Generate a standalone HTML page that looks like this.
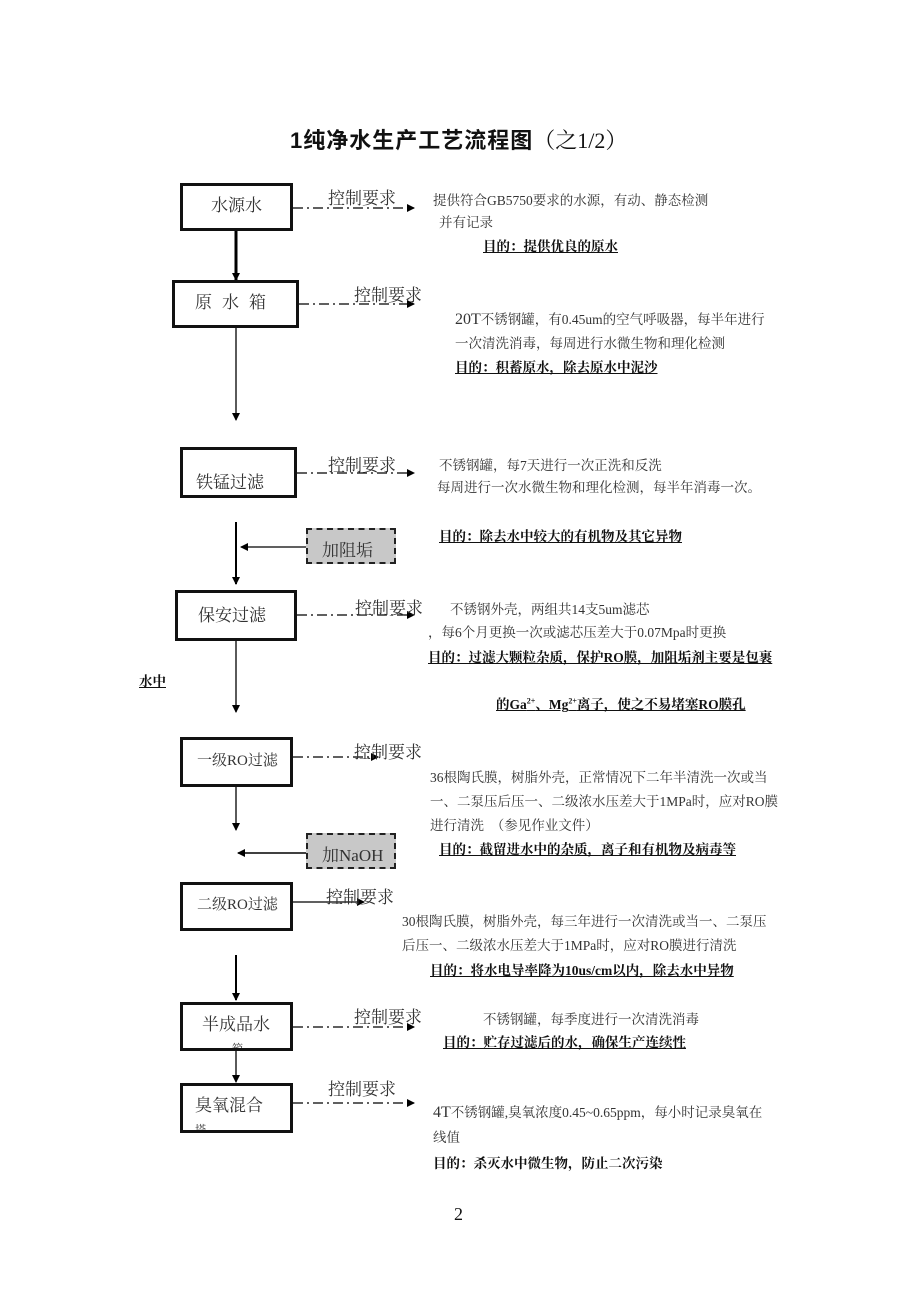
<!DOCTYPE html>
<html><head><meta charset="utf-8"><style>
body{margin:0;background:#fff;}
#p{position:relative;width:920px;height:1302px;overflow:hidden;font-family:"Liberation Serif","Noto Serif CJK SC","Noto Sans CJK SC",serif;color:#111;}
.t{position:absolute;white-space:nowrap;}
.bx{position:absolute;border:3px solid #111;box-sizing:border-box;background:#fff;font-size:17px;color:#333;}
.d{font-size:13.5px;color:#333;}
.g{font-size:13.5px;font-weight:bold;text-decoration:underline;color:#111;}
.k{font-size:17px;color:#333;}
.add{position:absolute;border:2px dashed #222;background:#c8c8c8;box-sizing:border-box;font-size:17px;color:#333;}
</style></head><body><div id="p">
<svg width="920" height="1302" style="position:absolute;left:0;top:0">
<defs><marker id="a" markerWidth="8" markerHeight="8" refX="7" refY="4" orient="auto" markerUnits="userSpaceOnUse"><path d="M0,0L8,4L0,8z" fill="#000"/></marker></defs>
<g stroke="#000" fill="none">
<line x1="236" y1="230" x2="236" y2="280" stroke-width="3" marker-end="url(#a)"/>
<line x1="236" y1="327" x2="236" y2="420" stroke-width="1.3" marker-end="url(#a)"/>
<line x1="236" y1="522" x2="236" y2="584" stroke-width="2" marker-end="url(#a)"/>
<line x1="306" y1="547" x2="241" y2="547" stroke-width="1.3" marker-end="url(#a)"/>
<line x1="236" y1="640" x2="236" y2="712" stroke-width="1.3" marker-end="url(#a)"/>
<line x1="236" y1="786" x2="236" y2="830" stroke-width="1.3" marker-end="url(#a)"/>
<line x1="306" y1="853" x2="238" y2="853" stroke-width="1.5" marker-end="url(#a)"/>
<line x1="236" y1="955" x2="236" y2="1000" stroke-width="2" marker-end="url(#a)"/>
<line x1="236" y1="1050" x2="236" y2="1082" stroke-width="1.3" marker-end="url(#a)"/>
<g stroke-width="1.3" stroke-dasharray="10,4,2,4">
<line x1="293" y1="208" x2="414" y2="208" marker-end="url(#a)"/>
<line x1="299" y1="304" x2="414" y2="304" marker-end="url(#a)"/>
<line x1="297" y1="473" x2="414" y2="473" marker-end="url(#a)"/>
<line x1="297" y1="615" x2="414" y2="615" marker-end="url(#a)"/>
<line x1="293" y1="757" x2="378" y2="757" marker-end="url(#a)"/>
<line x1="293" y1="1027" x2="414" y2="1027" marker-end="url(#a)"/>
<line x1="293" y1="1103" x2="414" y2="1103" marker-end="url(#a)"/>
</g>
<line x1="293" y1="902" x2="364" y2="902" stroke-width="1.3" marker-end="url(#a)"/>
</g></svg>

<div class="t" style="left:290px;top:123px;font-size:22px;font-weight:bold;font-family:'Liberation Sans','Noto Sans CJK SC',sans-serif;letter-spacing:1px;">1纯净水生产工艺流程图<span style="font-weight:normal;letter-spacing:0;font-family:'Liberation Serif','Noto Serif CJK SC',serif;">（之1/2）</span></div>

<div class="bx" style="left:180px;top:183px;width:113px;height:48px;text-align:center;line-height:40px;">水源水</div>
<div class="bx" style="left:172px;top:280px;width:127px;height:48px;text-align:center;line-height:40px;letter-spacing:10px;">原水箱</div>
<div class="bx" style="left:180px;top:447px;width:117px;height:51px;padding:18px 0 0 13px;">铁锰过滤</div>
<div class="bx" style="left:175px;top:590px;width:122px;height:51px;padding:8px 0 0 20px;">保安过滤</div>
<div class="bx" style="left:180px;top:737px;width:113px;height:50px;padding:9px 0 0 14px;font-size:15px;">一级RO过滤</div>
<div class="bx" style="left:180px;top:882px;width:113px;height:49px;padding:8px 0 0 14px;font-size:15px;">二级RO过滤</div>
<div class="bx" style="left:180px;top:1002px;width:113px;height:49px;overflow:hidden;padding:9px 0 0 19px;line-height:22px;">半成品水<br><span style="font-size:11px;padding-left:30px">箱</span></div>
<div class="bx" style="left:180px;top:1083px;width:113px;height:50px;overflow:hidden;padding:9px 0 0 12px;line-height:22px;">臭氧混合<br><span style="font-size:11px;">塔</span></div>

<div class="add" style="left:306px;top:528px;width:90px;height:36px;padding:6px 0 0 14px;">加阻垢</div>
<div class="add" style="left:306px;top:833px;width:90px;height:36px;padding:6px 0 0 14px;">加NaOH</div>

<div class="t k" style="left:328px;top:184px;">控制要求</div>
<div class="t k" style="left:354px;top:281px;">控制要求</div>
<div class="t k" style="left:328px;top:451px;">控制要求</div>
<div class="t k" style="left:355px;top:594px;">控制要求</div>
<div class="t k" style="left:354px;top:738px;">控制要求</div>
<div class="t k" style="left:326px;top:883px;">控制要求</div>
<div class="t k" style="left:354px;top:1003px;">控制要求</div>
<div class="t k" style="left:328px;top:1075px;">控制要求</div>

<div class="t d" style="left:433px;top:189px;">提供符合GB5750要求的水源，有动、静态检测</div>
<div class="t d" style="left:439px;top:211px;">并有记录</div>
<div class="t g" style="left:483px;top:235px;">目的：提供优良的原水</div>

<div class="t d" style="left:455px;top:308px;"><span style="font-size:16px">20T</span>不锈钢罐，有0.45um的空气呼吸器，每半年进行</div>
<div class="t d" style="left:455px;top:332px;">一次清洗消毒，每周进行水微生物和理化检测</div>
<div class="t g" style="left:455px;top:356px;">目的：积蓄原水，除去原水中泥沙</div>

<div class="t d" style="left:439px;top:454px;">不锈钢罐，每7天进行一次正洗和反洗</div>
<div class="t d" style="left:437px;top:476px;">每周进行一次水微生物和理化检测，每半年消毒一次。</div>
<div class="t g" style="left:439px;top:525px;">目的：除去水中较大的有机物及其它异物</div>

<div class="t d" style="left:450px;top:598px;">不锈钢外壳，两组共14支5um滤芯</div>
<div class="t d" style="left:428px;top:621px;">，每6个月更换一次或滤芯压差大于0.07Mpa时更换</div>
<div class="t g" style="left:428px;top:646px;">目的：过滤大颗粒杂质，保护RO膜，加阻垢剂主要是包裹</div>
<div class="t g" style="left:139px;top:670px;">水中</div>
<div class="t g" style="left:496px;top:693px;">的Ga<sup style="font-size:8px">2+</sup>、Mg<sup style="font-size:8px">2+</sup>离子，使之不易堵塞RO膜孔</div>

<div class="t d" style="left:430px;top:766px;">36根陶氏膜，树脂外壳，正常情况下二年半清洗一次或当</div>
<div class="t d" style="left:430px;top:790px;">一、二泵压后压一、二级浓水压差大于1MPa时，应对RO膜</div>
<div class="t d" style="left:430px;top:814px;">进行清洗　（参见作业文件）</div>
<div class="t g" style="left:439px;top:838px;">目的：截留进水中的杂质，离子和有机物及病毒等</div>

<div class="t d" style="left:402px;top:910px;">30根陶氏膜，树脂外壳，每三年进行一次清洗或当一、二泵压</div>
<div class="t d" style="left:402px;top:934px;">后压一、二级浓水压差大于1MPa时，应对RO膜进行清洗</div>
<div class="t g" style="left:430px;top:959px;">目的：将水电导率降为10us/cm以内，除去水中异物</div>

<div class="t d" style="left:483px;top:1008px;">不锈钢罐，每季度进行一次清洗消毒</div>
<div class="t g" style="left:443px;top:1031px;">目的：贮存过滤后的水，确保生产连续性</div>

<div class="t d" style="left:433px;top:1101px;"><span style="font-size:16px">4T</span>不锈钢罐,臭氧浓度0.45~0.65ppm，每小时记录臭氧在</div>
<div class="t d" style="left:433px;top:1126px;">线值</div>
<div class="t d" style="left:433px;top:1152px;font-weight:bold;color:#111;">目的：杀灭水中微生物，防止二次污染</div>

<div class="t" style="left:454px;top:1204px;font-size:18px;">2</div>
</div></body></html>
